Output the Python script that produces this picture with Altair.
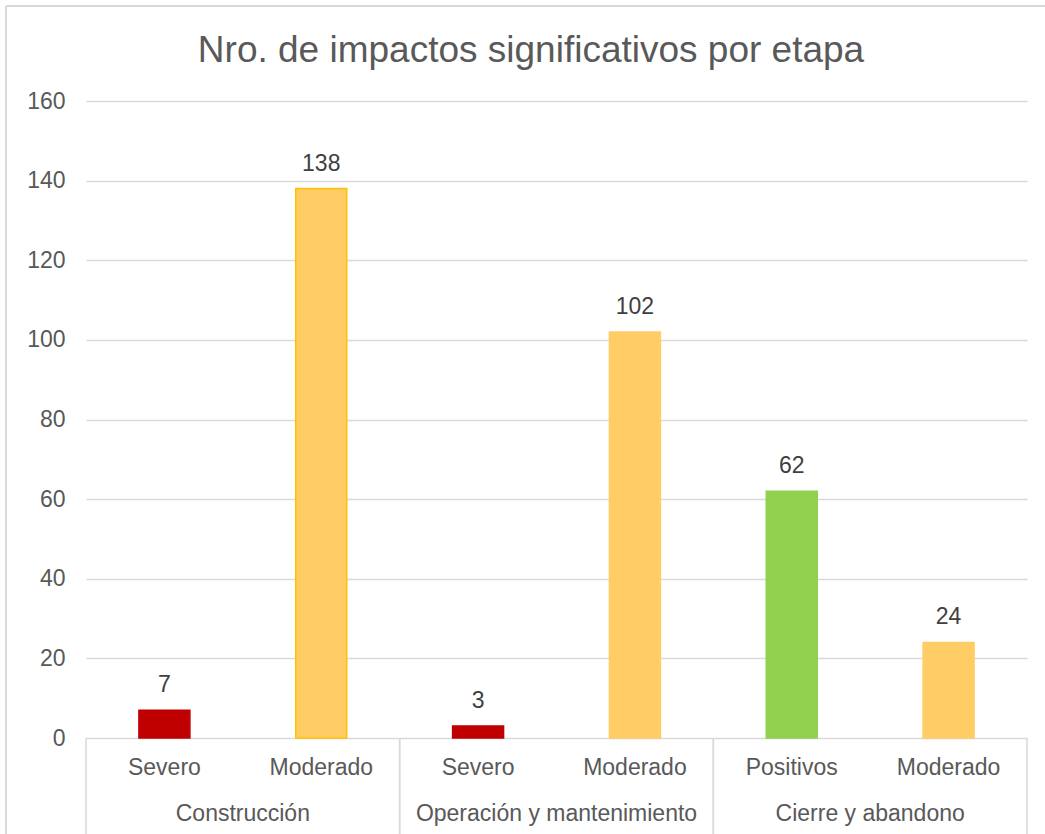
import altair as alt
import pandas as pd

# ---- data ----
keys = ["c1", "c2", "o1", "o2", "a1", "a2"]
tipos = ["Severo", "Moderado", "Severo", "Moderado", "Positivos", "Moderado"]
etapas = ["Construcción", "Construcción", "Operación y mantenimiento",
          "Operación y mantenimiento", "Cierre y abandono", "Cierre y abandono"]
valores = [7, 138, 3, 102, 62, 24]
fills = ["#C00000", "#FFCC66", "#C00000", "#FFCC66", "#92D050", "#FFCC66"]
strokes = ["#C00000", "#FFC000", "#C00000", "#FFCC66", "#92D050", "#FFCC66"]
grupos = ["Construcción", "Operación y mantenimiento", "Cierre y abandono"]
titulo = "Nro. de impactos significativos por etapa"
y_ticks = [0, 20, 40, 60, 80, 100, 120, 140, 160]

df = pd.DataFrame({"key": keys, "tipo": tipos, "etapa": etapas, "valor": valores,
                   "fill": fills, "stroke": strokes})
dg = pd.DataFrame({"etapa": grupos})

W, H = 941, 637
FONT = "Liberation Sans"
GRAY = "#595959"
LINE = "#D9D9D9"
FS = 23

xb = alt.X("key:N", sort=keys, axis=None,
           scale=alt.Scale(paddingInner=0.675, paddingOuter=0.3375))

bars = alt.Chart(df).mark_bar(strokeWidth=1.5).encode(
    x=xb,
    y=alt.Y("valor:Q", scale=alt.Scale(domain=[0, 160], nice=False),
            axis=alt.Axis(values=y_ticks, title=None, domain=False, ticks=False,
                          grid=True, gridColor=LINE, gridWidth=1.3,
                          labelFont=FONT, labelFontSize=FS, labelColor=GRAY,
                          labelPadding=21)),
    fill=alt.Fill("fill:N", scale=None),
    stroke=alt.Stroke("stroke:N", scale=None),
)

vlabels = alt.Chart(df).mark_text(font=FONT, fontSize=FS, color="#404040",
                                  baseline="alphabetic", dy=-18).encode(
    x=xb, y="valor:Q", text="valor:Q")

catlabels = alt.Chart(df).mark_text(font=FONT, fontSize=FS, color=GRAY,
                                    baseline="alphabetic").encode(
    x=xb, y=alt.value(H + 37), text="tipo:N")

xg = alt.Scale(domain=grupos, paddingInner=0, paddingOuter=0)

grplabels = alt.Chart(dg).mark_text(font=FONT, fontSize=FS, color=GRAY,
                                    baseline="alphabetic").encode(
    x=alt.X("etapa:N", sort=grupos, scale=xg, axis=None),
    y=alt.value(H + 83), text="etapa:N")

sep_l = alt.Chart(dg).mark_rule(color=LINE, strokeWidth=1.5).encode(
    x=alt.X("etapa:N", sort=grupos, scale=xg, axis=None, bandPosition=0),
    y=alt.value(H), y2=alt.value(H + 110))
sep_r = alt.Chart(dg).mark_rule(color=LINE, strokeWidth=1.5).encode(
    x=alt.X("etapa:N", sort=grupos, scale=xg, axis=None, bandPosition=1),
    y=alt.value(H), y2=alt.value(H + 110))

title = alt.Chart(pd.DataFrame({"t": [titulo]})).mark_text(
    font=FONT, fontSize=37, color=GRAY, baseline="alphabetic", align="center").encode(
    x=alt.value(445), y=alt.value(-39), text="t:N")

frame_top = alt.Chart(pd.DataFrame({"a": [0]})).mark_rule(color=LINE, strokeWidth=2).encode(
    x=alt.value(-80), x2=alt.value(W + 40), y=alt.value(-95))
frame_left = alt.Chart(pd.DataFrame({"a": [0]})).mark_rule(color=LINE, strokeWidth=2).encode(
    x=alt.value(-80), y=alt.value(-95), y2=alt.value(H + 110))

chart = alt.layer(
    frame_top, frame_left, bars, vlabels, catlabels, grplabels, sep_l, sep_r, title
).resolve_scale(x="independent").properties(
    width=W, height=H,
    padding={"left": 86, "top": 101, "right": 18, "bottom": 96},
    autosize=alt.AutoSizeParams(type="none"),
    background="white",
).configure_view(stroke=None)

chart.save("out.html", embed_options={"renderer": "svg", "actions": False})
